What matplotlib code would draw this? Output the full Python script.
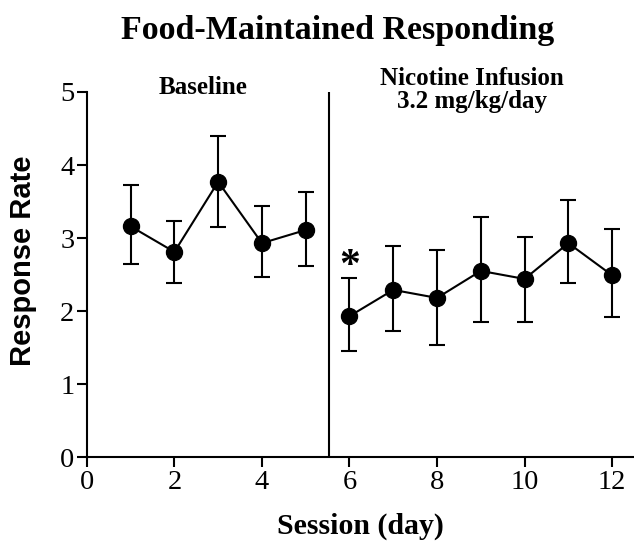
import matplotlib
matplotlib.use('Agg')
import matplotlib.pyplot as plt

# Session data
baseline_days = [1, 2, 3, 4, 5]
baseline_rate = [3.16, 2.81, 3.77, 2.93, 3.11]
baseline_upper = [3.73, 3.23, 4.40, 3.44, 3.63]
baseline_lower = [2.64, 2.38, 3.15, 2.47, 2.62]

nicotine_days = [6, 7, 8, 9, 10, 11, 12]
nicotine_rate = [1.93, 2.29, 2.18, 2.55, 2.44, 2.93, 2.49]
nicotine_upper = [2.45, 2.89, 2.84, 3.29, 3.01, 3.52, 3.12]
nicotine_lower = [1.45, 1.73, 1.53, 1.85, 1.85, 2.38, 1.92]

x_ticks = [0, 2, 4, 6, 8, 10, 12]
y_ticks = [0, 1, 2, 3, 4, 5]

serif = 'Liberation Serif'
sans = 'Liberation Sans'

fig = plt.figure(figsize=(6.34, 5.41), dpi=100)
ax = fig.add_axes([0.137, 0.155, 0.863, 0.675])


def draw_phase(days, rate, upper, lower):
    yerr = [[r - lo for r, lo in zip(rate, lower)],
            [up - r for r, up in zip(rate, upper)]]
    ax.errorbar(days, rate, yerr=yerr, fmt='o-', color='black',
                markersize=11.5, linewidth=1.5, elinewidth=1.5,
                capsize=6, capthick=1.5, clip_on=False)


draw_phase(baseline_days, baseline_rate, baseline_upper, baseline_lower)
draw_phase(nicotine_days, nicotine_rate, nicotine_upper, nicotine_lower)

# phase divider
ax.plot([5.54, 5.54], [0, 5], color='black', linewidth=1.5)

# significance marker
ax.text(6, 2.34, '*', ha='center', va='bottom', fontsize=30,
        fontfamily=serif, fontweight='bold')

ax.text(2.65, 4.91, 'Baseline', ha='center', va='bottom', fontsize=18,
        fontfamily=serif, fontweight='bold')
ax.text(8.8, 4.71, 'Nicotine Infusion\n3.2 mg/kg/day', ha='center',
        va='bottom', fontsize=18, fontfamily=serif, fontweight='bold',
        linespacing=1.0)

ax.set_xlim(0, 12.5)
ax.set_ylim(0, 5)
ax.set_xticks(x_ticks)
ax.set_yticks(y_ticks)
for lab in ax.get_xticklabels() + ax.get_yticklabels():
    lab.set_fontfamily(serif)
    lab.set_fontsize(20.5)
ax.tick_params(direction='out', length=7, width=1.5, pad=2)

for side in ['top', 'right']:
    ax.spines[side].set_visible(False)
for side in ['left', 'bottom']:
    ax.spines[side].set_linewidth(1.5)

ax.set_xlabel('Session (day)', fontsize=21.5, fontfamily=serif,
              fontweight='bold', labelpad=13)
ax.set_ylabel('Response Rate', fontsize=21, fontfamily=sans,
              fontweight='bold')
ax.yaxis.set_label_coords(-0.092, 0.537)

fig.text(0.533, 0.944, 'Food-Maintained Responding', ha='center',
         va='center', fontsize=24.5, fontfamily=serif, fontweight='bold')

fig.savefig('out.png', dpi=100)
